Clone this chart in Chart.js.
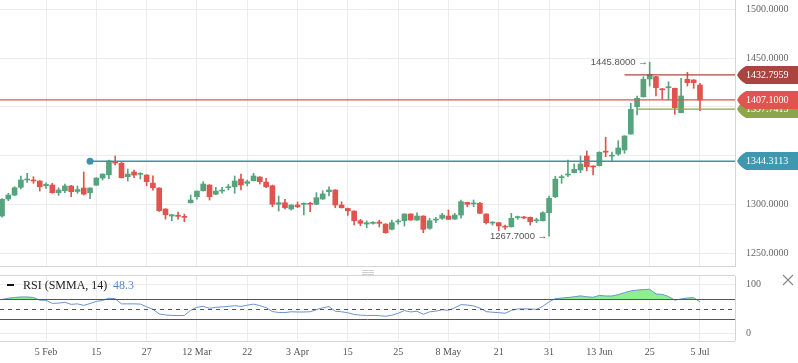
<!DOCTYPE html>
<html>
<head>
<meta charset="utf-8">
<script src="https://cdn.jsdelivr.net/npm/chart.js@4.4.1/dist/chart.umd.min.js"></script>
<style>
  body { margin: 0; background: #fff; }
  #wrap { position: relative; width: 798px; height: 363px; }
  #priceBox { position: absolute; left: 0; top: 0; width: 798px; height: 267px; }
  #rsiBox { position: absolute; left: 0; top: 267px; width: 798px; height: 96px; }
</style>
</head>
<body>
<div id="wrap">
  <div id="priceBox"><canvas id="priceChart"></canvas></div>
  <div id="rsiBox"><canvas id="rsiChart"></canvas></div>
</div>
<script>
// daily candles, oldest first
var opens = [
  1288.2, 1305.6, 1309.7, 1317.6, 1325.1, 1325.1, 1324.1,
  1319.2, 1320, 1312.1, 1314.1, 1319, 1313.4, 1316.9, 1312.1, 1319.8, 1327.1,
  1330.5, 1343.5, 1342.2, 1328.5, 1333.3, 1330.9, 1330.2, 1322, 1316.9, 1295.4,
  1288.2, 1289, 1287.9, 1301.8, 1308, 1314.1, 1320, 1310.5, 1313.8, 1317.2,
  1318.2, 1326.1, 1321.7, 1324.4, 1328.2, 1323, 1319.2, 1300.2, 1301.8, 1295.4,
  1299.5, 1300.2, 1301.2, 1300.2, 1305.6, 1313.1, 1314.9, 1299.5, 1296, 1293.3,
  1283.4, 1280, 1280.7, 1282, 1280, 1274.6, 1282.2, 1283.4, 1290.3, 1284.1,
  1288.2, 1275.6, 1284.1, 1285.9, 1288.2, 1285.1, 1289.2, 1302.2, 1300.6, 1301.2,
  1290.3, 1281, 1281.4, 1277.8, 1277.2, 1286.6, 1287.2, 1286.9, 1283.4, 1283.4,
  1291.6, 1308, 1327.5, 1330.2, 1332.6, 1335.4, 1349.7, 1339.5, 1339.8, 1354.6,
  1349.5, 1351.7, 1355.9, 1372.2, 1400.2, 1410.4, 1428.6, 1431, 1418.5, 1419.7,
  1419, 1394.1, 1428.3, 1427.6, 1422.4
];
var highs = [
  1306, 1311.5, 1318.2, 1329.2, 1332, 1328.5, 1324.4,
  1322.3, 1321.7, 1317.2, 1321, 1319.5, 1319, 1333.3, 1317.2, 1327.5, 1331.5,
  1345.6, 1349.7, 1343.6, 1336.3, 1335.4, 1332.6, 1330.5, 1329.5, 1317.2, 1295.8,
  1289.8, 1292.3, 1290.2, 1309.7, 1313.8, 1323.4, 1320.3, 1317.6, 1317.6, 1320.6,
  1329.2, 1331.2, 1325.1, 1332, 1328.5, 1326.8, 1320, 1308.7, 1305.3, 1299.8,
  1302.6, 1301.8, 1302.2, 1312.1, 1314.1, 1318, 1315.2, 1302.9, 1296.3, 1293.6,
  1284.8, 1283.4, 1282.4, 1284, 1280.3, 1284.1, 1284.8, 1290.5, 1290.6, 1291.6,
  1288.5, 1285.9, 1286.9, 1291, 1294.4, 1291, 1304.6, 1302.5, 1304.6, 1302.2,
  1290.6, 1282.4, 1281.7, 1279, 1291, 1288.2, 1287.9, 1287.2, 1285.9, 1292.6,
  1308.7, 1329, 1330.2, 1345.6, 1341.5, 1349.7, 1354.9, 1339.7, 1354, 1368.9,
  1353.8, 1365.4, 1370.5, 1403.7, 1411.2, 1430.9, 1445.8, 1431.3, 1419, 1425.8,
  1419.3, 1429.3, 1435.4, 1427.9, 1424.2
];
var lows = [
  1287, 1303.9, 1309, 1315.9, 1322.7, 1321.7, 1313.8,
  1316.6, 1311.5, 1309.4, 1312.1, 1308, 1311.5, 1309.7, 1305.9, 1319.5, 1325.1,
  1326.4, 1340.5, 1327, 1324, 1327.5, 1326.1, 1319.2, 1314.8, 1293, 1285,
  1283.4, 1285, 1282.4, 1301.5, 1305.6, 1313.8, 1304.6, 1310, 1311.5, 1314.9,
  1311.5, 1314.9, 1319, 1324, 1321, 1317.2, 1297.7, 1293.3, 1295.4, 1294.4,
  1296.7, 1289.3, 1292.6, 1300, 1305.3, 1308.7, 1296.7, 1296.4, 1288.9, 1279,
  1278.3, 1276.2, 1280, 1277, 1270.5, 1273.9, 1280, 1278, 1283.8, 1283.8,
  1271.1, 1274.6, 1281.4, 1284.8, 1284.5, 1284.8, 1285.9, 1297.7, 1297.7, 1290.6,
  1280, 1279, 1273.2, 1274.6, 1276.8, 1284.8, 1285.5, 1279, 1281.4, 1283,
  1267.7, 1307, 1321.7, 1328.5, 1332.3, 1332.6, 1334.6, 1330.2, 1339.5, 1349,
  1344.6, 1350.4, 1352.4, 1372, 1391.7, 1410, 1421.4, 1411.2, 1407.8, 1407.1,
  1392.4, 1393.8, 1421.4, 1419, 1396.1
];
var closes = [
  1305.3, 1309.7, 1317.2, 1325.1, 1326.1, 1324.1, 1318.2,
  1320.6, 1312.1, 1314.9, 1319, 1313.1, 1315.3, 1310.7, 1316.9, 1327.1, 1331.2,
  1344.6, 1342.5, 1327.5, 1331.2, 1330.2, 1332, 1323.4, 1317.2, 1293.6, 1289.5,
  1289.5, 1287.9, 1286.9, 1304.6, 1313.8, 1321, 1308, 1313.8, 1314.8, 1318.2,
  1324.1, 1320, 1323.4, 1329.2, 1323.4, 1318.2, 1300.2, 1301.8, 1296.7, 1299.5,
  1297.7, 1301.2, 1300.2, 1307, 1310.8, 1314.9, 1299.5, 1296.7, 1293.6, 1283.4,
  1280.7, 1281.4, 1281.7, 1280.7, 1271.1, 1281.4, 1282.9, 1290.3, 1284.1, 1288.2,
  1274.6, 1283.4, 1284.8, 1289.2, 1284.8, 1289.2, 1302.9, 1300.2, 1301.5, 1291,
  1281.4, 1281.9, 1278, 1276.8, 1285.9, 1287.2, 1286.2, 1282.4, 1284.4, 1291.6,
  1306.3, 1326, 1328.5, 1331.2, 1336, 1341.5, 1338.7, 1338.5, 1353.5, 1353.6,
  1350.2, 1357.9, 1370.2, 1397.5, 1408.8, 1428.3, 1433.4, 1419.7, 1417.5, 1420.7,
  1399.2, 1411.2, 1424.8, 1424.8, 1407.1
];
var rsi = [
  69, 71.5, 73, 74, 74, 73, 67.5,
  67.3, 61, 61.5, 63.3, 59, 60, 57, 60.6, 65, 67,
  71.5, 70.5, 60, 60, 60, 59.5, 54, 49, 39.5, 37.5,
  36.5, 36.2, 36.5, 47, 53, 55, 51, 53, 53.8, 55,
  56.3, 54.8, 57.3, 59.5, 56.5, 52.4, 44.5, 42.5, 42.3, 44,
  43.5, 43.5, 44, 48.3, 52, 54.5, 45, 44, 42, 38.5,
  37, 36.6, 36.6, 36, 34.8, 37, 41, 46.3, 43.6, 45,
  38.8, 43.8, 45.2, 48, 47, 52, 58.4, 57.7, 55.7, 51.5,
  44.2, 43, 42.2, 40.9, 46.7, 49.6, 50, 49.5, 49, 55,
  64, 70.7, 71.8, 73, 74.4, 76.3, 74.4, 73.4, 77.2, 76,
  76, 78.8, 82.8, 86.3, 88, 89, 89.7, 80.2, 79.2, 75,
  67.5, 70, 72, 72.6, 64
];
var tickLabels = ['5 Feb', '15', '27', '12 Mar', '22', '3 Apr', '15', '25', '8 May', '21', '31', '13 Jun', '25', '5 Jul'];
var firstTick = 7, tickEvery = 8;

// horizontal price levels (value, first candle index or null for full width)
var levelValues = [1432.7959, 1397.7413, 1407.1, 1344.3113];
var levelStarts = [99, 101, null, 14];
var levelColors = ['#b0463f', '#8ba643', '#e0534f', '#3a93ab'];
var tagColors = ['#a9443f', '#8ca64a', '#e0534f', '#3d98b0'];

var rsiTitle = 'RSI (SMMA, 14)';
var rsiShown = '48.3';
var rsiBands = [70, 50, 30];
var rsiTicks = [0, 100];

var UP = '#55a47e', DOWN = '#e0534f';
var SERIF = 'Liberation Serif';
var GRID = '#ececf0', FRAME = '#d4d4d8';
var xMin = -0.32, xMax = 116.57;

var idx = opens.map(function(_, i) { return i; });
function candleColor(c) {
  var i = c.dataIndex;
  if (i === undefined) return UP;
  return closes[i] >= opens[i] ? UP : DOWN;
}

function xAxis(showLabels) {
  return {
    type: 'linear', min: xMin, max: xMax, offset: false,
    afterBuildTicks: function(s) {
      s.ticks = tickLabels.map(function(_, j) { return { value: firstTick + j * tickEvery }; });
    },
    ticks: {
      display: showLabels, autoSkip: false, maxRotation: 0, padding: 5, color: '#555',
      font: { family: SERIF, size: 10 },
      callback: function(v, j) { return tickLabels[j]; }
    },
    grid: { color: GRID, drawTicks: false, offset: false },
    border: { display: false },
    afterFit: function(s) {
      s.height = showLabels ? 22 : 0;
      s.paddingLeft = 0; s.paddingRight = 0;
    }
  };
}

// highest high / lowest low markers
var hiIdx = highs.indexOf(Math.max.apply(null, highs));
var loIdx = lows.indexOf(Math.min.apply(null, lows));

var pricePlugin = {
  id: 'priceExtras',
  afterDraw: function(chart) {
    var c = chart.ctx, a = chart.chartArea, x = chart.scales.x, y = chart.scales.y;
    c.save();
    c.strokeStyle = FRAME; c.lineWidth = 1;
    c.beginPath();
    c.moveTo(a.right + 0.5, 0); c.lineTo(a.right + 0.5, a.bottom);
    c.moveTo(0, a.bottom - 0.5); c.lineTo(a.right, a.bottom - 0.5);
    c.stroke();

    // hi / lo labels
    c.font = '9.5px Liberation Sans';
    c.fillStyle = '#555';
    c.textAlign = 'right'; c.textBaseline = 'middle';
    c.fillText(highs[hiIdx].toFixed(4) + ' \u2192', x.getPixelForValue(hiIdx) - 2, y.getPixelForValue(highs[hiIdx]));
    c.fillText(lows[loIdx].toFixed(4) + ' \u2192', x.getPixelForValue(loIdx) - 2, y.getPixelForValue(lows[loIdx]));

    // price tags on the axis
    c.font = '10px ' + SERIF;
    c.textAlign = 'left';
    levelValues.forEach(function(v, j) {
      var py = Math.round(y.getPixelForValue(v));
      var x0 = a.right + 2;
      c.fillStyle = tagColors[j];
      c.beginPath();
      c.moveTo(x0, py);
      c.quadraticCurveTo(x0 + 3, py - 6, x0 + 9, py - 9);
      c.lineTo(chart.width, py - 9);
      c.lineTo(chart.width, py + 9);
      c.lineTo(x0 + 9, py + 9);
      c.quadraticCurveTo(x0 + 3, py + 6, x0, py);
      c.closePath();
      c.fill();
      c.fillStyle = '#fff';
      c.fillText(v.toFixed(4), a.right + 11, py + 0.5);
    });
    c.restore();
  }
};

var priceSets = [
  {
    type: 'bar', data: idx.map(function(i) { return { x: i, y: [lows[i], highs[i]] }; }),
    backgroundColor: candleColor, barThickness: 1, grouped: false, order: 3
  },
  {
    type: 'bar', data: idx.map(function(i) { return { x: i, y: [opens[i], closes[i]] }; }),
    backgroundColor: candleColor, barThickness: 5, minBarLength: 1, grouped: false, order: 2
  }
];
levelValues.forEach(function(v, j) {
  var start = levelStarts[j] === null ? xMin : levelStarts[j];
  priceSets.push({
    type: 'line', data: [{ x: start, y: v }, { x: xMax, y: v }],
    borderColor: levelColors[j], borderWidth: j === 3 ? 1.6 : 1.2,
    pointRadius: function(c) { return c.dataIndex === 0 && j === 3 ? 3.5 : 0; },
    pointBackgroundColor: levelColors[j], pointBorderWidth: 0,
    tension: 0, order: 1, clip: 6
  });
});

new Chart(document.getElementById('priceChart'), {
  type: 'bar',
  data: { datasets: priceSets },
  options: {
    responsive: true, maintainAspectRatio: false, animation: false,
    layout: { padding: 0, autoPadding: false },
    plugins: { legend: { display: false }, tooltip: { enabled: false } },
    scales: {
      x: xAxis(false),
      y: {
        position: 'right', min: 1236, max: 1509.5,
        ticks: {
          stepSize: 50, includeBounds: false, padding: 11, color: '#666',
          font: { family: SERIF, size: 10 },
          callback: function(v) {
            var near = levelValues.some(function(l) { return Math.abs(l - v) < 12; });
            return near ? '' : v.toFixed(4);
          }
        },
        grid: { color: GRID, drawTicks: false },
        border: { display: false },
        afterFit: function(s) { s.width = 63; s.paddingTop = 0; s.paddingBottom = 0; }
      }
    }
  },
  plugins: [pricePlugin]
});

var rsiPlugin = {
  id: 'rsiExtras',
  afterDatasetsDraw: function(chart) {
    var c = chart.ctx, a = chart.chartArea, y = chart.scales.y;
    c.save();
    c.strokeStyle = '#555'; c.lineWidth = 1;
    rsiBands.forEach(function(b) {
      var py = Math.round(y.getPixelForValue(b)) + 0.5;
      c.setLineDash(b === 50 ? [4, 4] : []);
      c.beginPath(); c.moveTo(a.left, py); c.lineTo(a.right, py); c.stroke();
    });
    c.restore();
  },
  afterDraw: function(chart) {
    var c = chart.ctx, a = chart.chartArea;
    c.save();
    c.strokeStyle = FRAME; c.lineWidth = 1;
    c.beginPath();
    c.moveTo(0, a.top - 0.5); c.lineTo(a.right, a.top - 0.5);
    c.moveTo(0, a.bottom + 0.5); c.lineTo(a.right, a.bottom + 0.5);
    c.moveTo(a.right + 0.5, a.top); c.lineTo(a.right + 0.5, a.bottom);
    c.stroke();

    // splitter handle
    c.strokeStyle = '#cfcfd4';
    [3.5, 5.5, 7.5].forEach(function(py) {
      c.beginPath(); c.moveTo(362, py); c.lineTo(374, py); c.stroke();
    });

    // close cross
    c.strokeStyle = '#888'; c.lineWidth = 1.2;
    c.beginPath();
    c.moveTo(783, 8); c.lineTo(793, 18);
    c.moveTo(793, 8); c.lineTo(783, 18);
    c.stroke();

    // title
    c.fillStyle = '#111';
    c.fillRect(7, 17, 7, 2);
    c.font = '12px ' + SERIF;
    c.textBaseline = 'middle'; c.textAlign = 'left';
    c.fillStyle = '#222';
    c.fillText(rsiTitle, 23, 19);
    c.fillStyle = '#5b87c5';
    c.fillText(rsiShown, 113, 19);
    c.restore();
  }
};

new Chart(document.getElementById('rsiChart'), {
  type: 'line',
  data: {
    datasets: [{
      data: idx.map(function(i) { return { x: i, y: rsi[i] }; }),
      borderColor: '#6b94cc', borderWidth: 1, pointRadius: 0, tension: 0,
      fill: { target: { value: 70 }, above: '#90ee90', below: 'rgba(0,0,0,0)' }
    }]
  },
  options: {
    responsive: true, maintainAspectRatio: false, animation: false,
    layout: { padding: { top: 9 }, autoPadding: false },
    plugins: { legend: { display: false }, tooltip: { enabled: false } },
    scales: {
      x: xAxis(true),
      y: {
        position: 'right', min: -15.4, max: 116.6,
        afterBuildTicks: function(s) { s.ticks = rsiTicks.map(function(v) { return { value: v }; }); },
        ticks: { padding: 11, color: '#666', font: { family: SERIF, size: 10 } },
        grid: { color: GRID, drawTicks: false },
        border: { display: false },
        afterFit: function(s) { s.width = 63; s.paddingTop = 0; s.paddingBottom = 0; }
      }
    }
  },
  plugins: [rsiPlugin]
});
</script>
</body>
</html>
